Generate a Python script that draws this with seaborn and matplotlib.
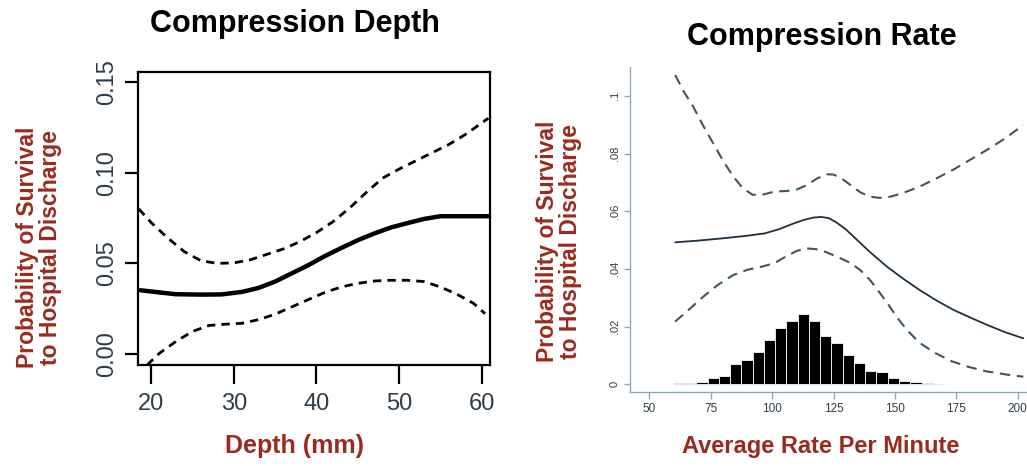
import numpy as np
import pandas as pd
import matplotlib
matplotlib.use("Agg")
import matplotlib.pyplot as plt
import seaborn as sns

# ---------------- data ----------------
depth_mean_x = [18.7, 21, 23, 26, 28.5, 31, 33, 35, 37, 39, 41, 43, 45, 47, 49, 51, 53, 55, 58, 60.8]
depth_mean_y = [0.0352, 0.0340, 0.0330, 0.0328, 0.0329, 0.0343, 0.0365, 0.0400, 0.0445, 0.0490,
                0.0540, 0.0585, 0.0628, 0.0665, 0.0698, 0.0722, 0.0745, 0.0760, 0.0760, 0.0760]
depth_upper_x = [18.5, 20, 22, 24, 26, 28, 30, 32, 34, 36, 38, 40, 42, 44, 46, 48, 50, 52, 54, 56, 58, 60.8]
depth_upper_y = [0.080, 0.0725, 0.064, 0.0565, 0.0515, 0.0500, 0.0503, 0.0520, 0.0550, 0.0580, 0.0620,
                 0.0670, 0.0730, 0.0805, 0.0890, 0.0970, 0.1020, 0.1065, 0.1110, 0.1155, 0.1210, 0.1300]
depth_lower_x = [19.5, 21, 23, 25, 27, 29, 31, 33, 35, 37, 39, 41, 43, 45, 47, 49, 51, 53, 55, 57, 59, 60.4]
depth_lower_y = [-0.006, 0.0005, 0.0070, 0.0125, 0.0158, 0.0165, 0.0170, 0.0190, 0.0220, 0.0260, 0.0300,
                 0.0340, 0.0370, 0.0390, 0.0403, 0.0407, 0.0407, 0.0400, 0.0370, 0.0330, 0.0280, 0.0223]

rate_mean_x = [60.5, 70, 80, 90, 97, 103, 108, 113, 117, 120, 123, 126, 130, 134, 140, 147, 154, 160,
               167, 174, 181, 188, 195, 202.3]
rate_mean_y = [0.0492, 0.0498, 0.0506, 0.0515, 0.0523, 0.0538, 0.0555, 0.0570, 0.0578, 0.0580, 0.0576,
               0.0562, 0.0537, 0.0505, 0.0457, 0.0406, 0.0362, 0.0327, 0.0290, 0.0257, 0.0230, 0.0204,
               0.0180, 0.0159]
rate_upper_x = [60.5, 64, 68, 72, 76, 80, 84, 88, 92, 96, 101, 106, 110, 114, 118, 122, 125, 128, 132,
                136, 140, 144, 148, 153, 160, 167, 174, 181, 188, 195, 202.3]
rate_upper_y = [0.1072, 0.1015, 0.0960, 0.0895, 0.0835, 0.0775, 0.0722, 0.0680, 0.0657, 0.0657, 0.0668,
                0.0670, 0.0675, 0.0690, 0.0712, 0.0728, 0.0727, 0.0715, 0.0690, 0.0665, 0.0650, 0.0646,
                0.0650, 0.0662, 0.0685, 0.0714, 0.0745, 0.0780, 0.0815, 0.0853, 0.0899]
rate_lower_x = [60.5, 66, 72, 78, 84, 90, 96, 101, 105, 110, 114, 118, 122, 127, 132, 136, 140, 144, 147,
                151, 155, 160, 166, 173, 180, 187, 195, 202.3]
rate_lower_y = [0.0217, 0.0258, 0.0304, 0.0345, 0.0378, 0.0397, 0.0408, 0.0420, 0.0440, 0.0462, 0.0471,
                0.0468, 0.0458, 0.0440, 0.0420, 0.0395, 0.0360, 0.0315, 0.0280, 0.0230, 0.0187, 0.0144,
                0.0110, 0.0080, 0.0060, 0.0045, 0.0034, 0.0026]

# histogram of rates (24 bins between 60 and 170)
hist_lo, hist_hi = 60, 170
hist_heights = [0.0003, 0.0003, 0.0009, 0.0020, 0.0028, 0.0069, 0.0084, 0.0111, 0.0153, 0.0196, 0.0218,
                0.0243, 0.0218, 0.0168, 0.0143, 0.0102, 0.0074, 0.0046, 0.0042, 0.0020, 0.0012, 0.0006,
                0.0003, 0.0002]

depth_ticks = [20, 30, 40, 50, 60]
depth_yticks = [0.00, 0.05, 0.10, 0.15]
depth_yticklabels = ["0.00", "0.05", "0.10", "0.15"]
rate_ticks = [50, 75, 100, 125, 150, 175, 200]
rate_yticks = [0, 0.02, 0.04, 0.06, 0.08, 0.1]
rate_yticklabels = ["0", ".02", ".04", ".06", ".08", ".1"]

ylabel_text = "Probability of Survival\nto Hospital Discharge"

# ---------------- style ----------------
sns.set_style("ticks")
plt.rcParams['font.family'] = ['Liberation Sans', 'DejaVu Sans']

RED = "#9a2a1e"
TICKTXT = "#2e3d47"
AXBLUE = "#8aaabb"
SLATE = "#1e3040"
DASH = "#3e5566"

fig = plt.figure(figsize=(10.27, 4.66), dpi=100)

# ---------------- left panel: compression depth ----------------
ax1 = fig.add_axes([138 / 1027, 101 / 466, 352 / 1027, 293 / 466])
sns.lineplot(x=depth_upper_x, y=depth_upper_y, ax=ax1, color="black", lw=2.0,
             linestyle=(0, (3, 2.2)), sort=False)
sns.lineplot(x=depth_lower_x, y=depth_lower_y, ax=ax1, color="black", lw=2.0,
             linestyle=(0, (3, 2.2)), sort=False)
sns.lineplot(x=depth_mean_x, y=depth_mean_y, ax=ax1, color="black", lw=3.2, sort=False)
ax1.set_xlim(18.4, 61)
ax1.set_ylim(-0.006, 0.1555)
ax1.set_xticks(depth_ticks)
ax1.set_xticklabels([str(t) for t in depth_ticks])
ax1.set_yticks(depth_yticks)
ax1.set_yticklabels(depth_yticklabels, rotation=90, va="center")
for s in ax1.spines.values():
    s.set_visible(True)
    s.set_linewidth(1.6)
    s.set_color("black")
ax1.tick_params(axis="x", length=14, width=1.6, color="black", labelsize=17,
                labelcolor=TICKTXT, pad=6)
ax1.tick_params(axis="y", length=9.5, width=1.6, color="black", labelsize=17,
                labelcolor=TICKTXT, pad=5)
ax1.set_xlabel("Depth (mm)", color=RED, fontsize=18, fontweight="bold")
ax1.xaxis.set_label_coords(0.446, -0.235)
ax1.set_ylabel(ylabel_text, color=RED, fontsize=16.5, fontweight="bold", linespacing=1.0)
ax1.yaxis.set_label_coords(-0.216, 0.40)
fig.text(295 / 1027, 1 - 24 / 466, "Compression Depth", ha="center", va="center",
         fontsize=22, fontweight="bold", color="black")

# ---------------- right panel: compression rate ----------------
ax2 = fig.add_axes([630 / 1027, 74.3 / 466, 397 / 1027, 325 / 466])
n_bins = len(hist_heights)
bin_w = (hist_hi - hist_lo) / n_bins
hist_df = pd.DataFrame({"rate": [hist_lo + bin_w * (i + 0.5) for i in range(n_bins)],
                        "share": hist_heights})
sns.histplot(data=hist_df, x="rate", weights="share", binwidth=bin_w,
             binrange=(hist_lo, hist_hi), ax=ax2,
             color="black", alpha=1, edgecolor="#e6e8ee", linewidth=0.7)
sns.lineplot(x=rate_upper_x, y=rate_upper_y, ax=ax2, color=DASH, lw=1.5,
             linestyle=(0, (5, 3.2)), sort=False)
sns.lineplot(x=rate_lower_x, y=rate_lower_y, ax=ax2, color=DASH, lw=1.5,
             linestyle=(0, (5, 3.2)), sort=False)
sns.lineplot(x=rate_mean_x, y=rate_mean_y, ax=ax2, color=SLATE, lw=1.3, sort=False)
ax2.set_xlim(42.1, 203.8)
ax2.set_ylim(-0.0026, 0.1101)
ax2.set_xticks(rate_ticks)
ax2.set_xticklabels([str(t) for t in rate_ticks])
ax2.set_yticks(rate_yticks)
ax2.set_yticklabels(rate_yticklabels, rotation=90, va="center")
sns.despine(ax=ax2)
for side in ["left", "bottom"]:
    ax2.spines[side].set_color(AXBLUE)
    ax2.spines[side].set_linewidth(1.0)
ax2.tick_params(axis="x", length=5, width=1.0, color=AXBLUE, labelsize=8.5,
                labelcolor=TICKTXT, pad=3)
ax2.tick_params(axis="y", length=4.5, width=1.0, color=AXBLUE, labelsize=8,
                labelcolor=TICKTXT, pad=3)
ax2.set_xlabel("Average Rate Per Minute", color=RED, fontsize=17, fontweight="bold")
ax2.xaxis.set_label_coords(0.481, -0.133)
ax2.set_ylabel(ylabel_text, color=RED, fontsize=16.5, fontweight="bold", linespacing=1.0)
ax2.yaxis.set_label_coords(-0.1217, 0.4615)
fig.text(821.5 / 1027, 1 - 37 / 466, "Compression Rate", ha="center", va="center",
         fontsize=22, fontweight="bold", color="black")

plt.savefig("out.png", dpi=100)
plt.close()
